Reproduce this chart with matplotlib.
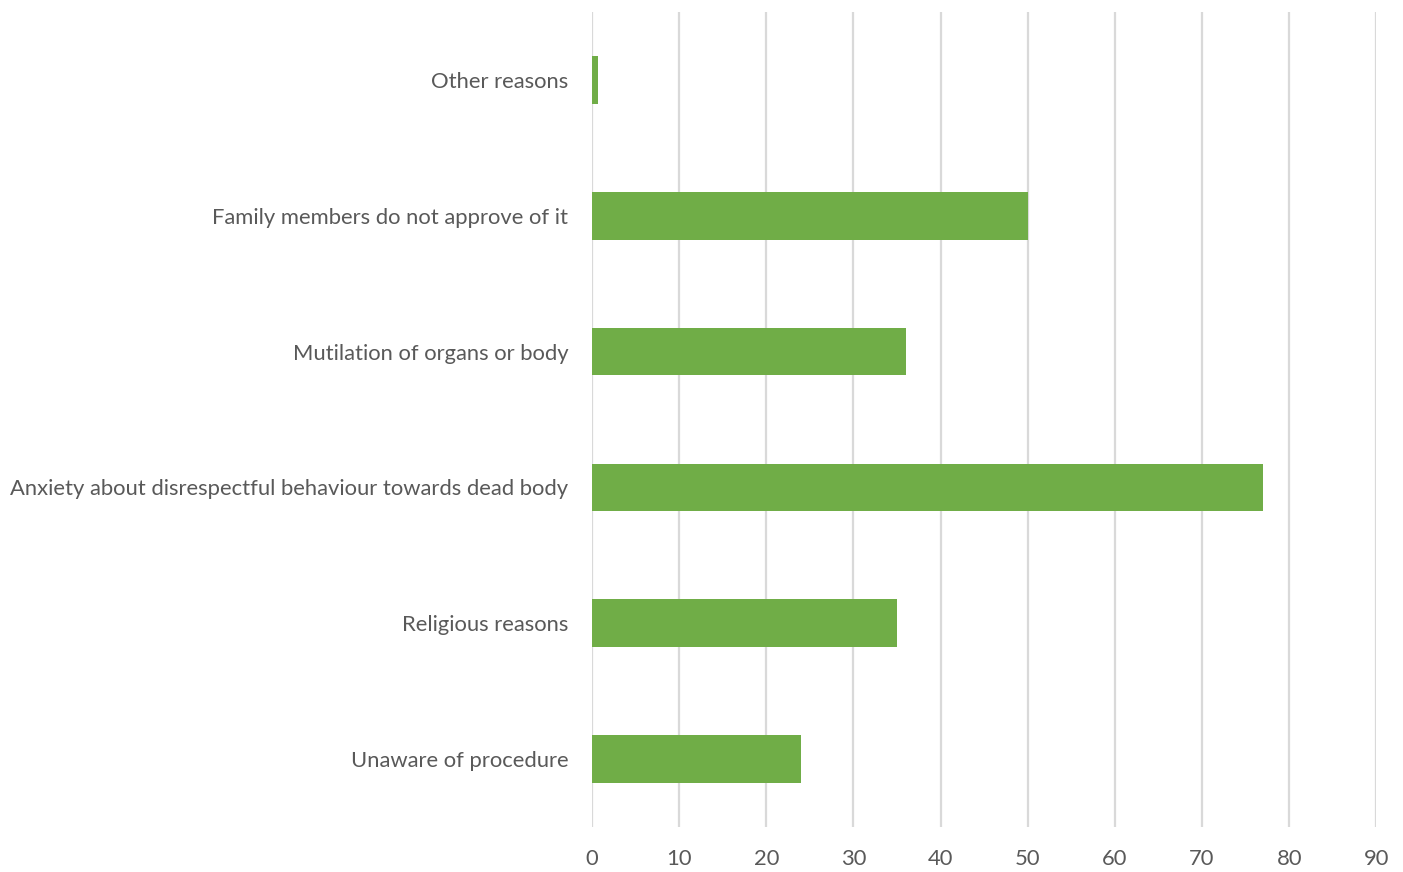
import matplotlib
matplotlib.use("Agg")
import matplotlib.pyplot as plt

categories = [
    "Unaware of procedure",
    "Religious reasons",
    "Anxiety about disrespectful behaviour towards dead body",
    "Mutilation of organs or body",
    "Family members do not approve of it",
    "Other reasons",
]
values = [24, 35, 77, 36, 50, 0.7]
xticks = [0, 10, 20, 30, 40, 50, 60, 70, 80, 90]

plt.rcParams["font.family"] = ["Lato", "DejaVu Sans"]

fig = plt.figure(figsize=(14.03, 8.72), dpi=100)
ax = fig.add_axes([0.422, 0.052, 0.559, 0.934])

ypos = list(range(len(categories)))
ax.barh(ypos, values, height=0.35, color="#70ad47", zorder=3)

ax.set_xlim(0, 90)
ax.set_ylim(-0.5, len(categories) - 0.5)
ax.set_xticks(xticks)
ax.set_yticks(ypos)
ax.set_yticklabels(categories)
ax.xaxis.grid(True, color="#d9d9d9", lw=1.6, zorder=0)
ax.set_axisbelow(True)
for s in ax.spines.values():
    s.set_visible(False)
ax.tick_params(axis="both", length=0, labelsize=15.8, labelcolor="#595959")
ax.tick_params(axis="x", pad=16)
ax.tick_params(axis="y", pad=17)

fig.savefig("out.png", dpi=100)
